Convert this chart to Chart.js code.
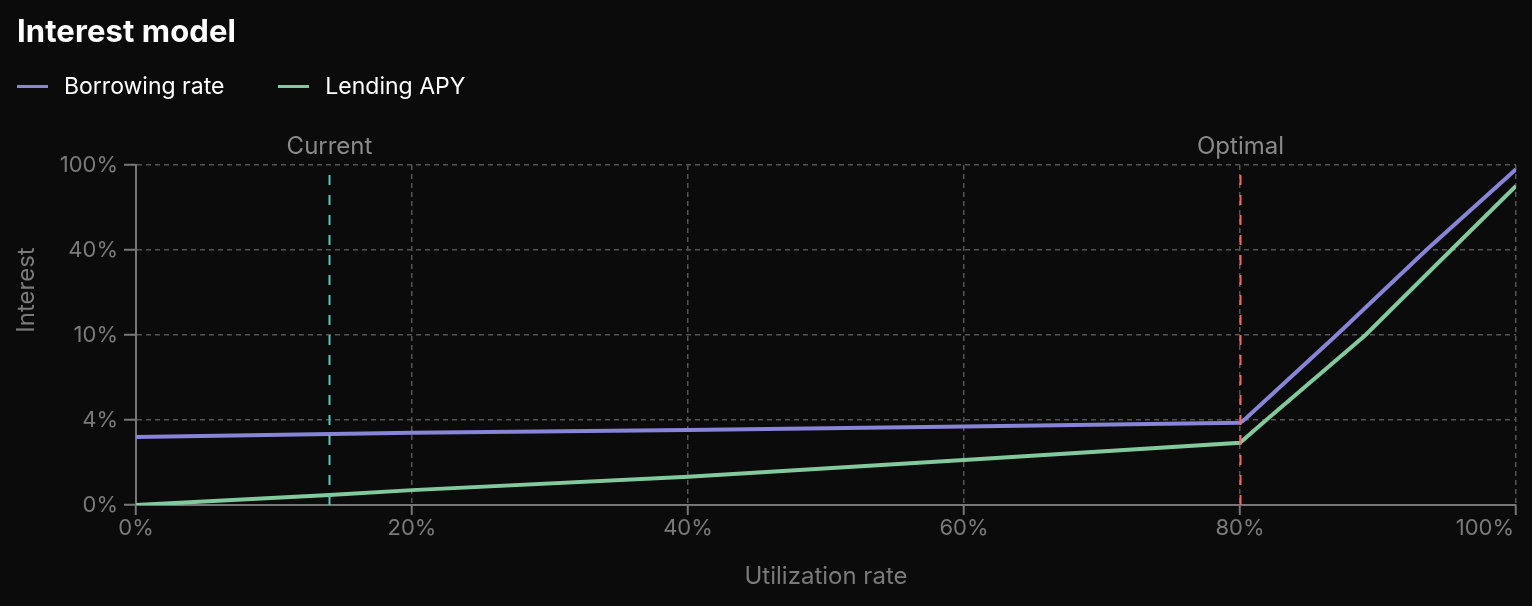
<!DOCTYPE html>
<html>
<head>
<meta charset="utf-8">
<script src="https://cdn.jsdelivr.net/npm/chart.js@4"></script>
<style>
  html, body { margin: 0; padding: 0; background: #0b0b0b; }
  #wrap { position: relative; width: 1532px; height: 606px; overflow: hidden; font-family: Inter, "Noto Sans", sans-serif; }
  #c { position: absolute; left: 0; top: 0; }
  #title { position: absolute; left: 17px; top: 12px; color: #ffffff; font-size: 31px; font-weight: 700; line-height: 38px; letter-spacing: 0.1px; }
  #legend { position: absolute; left: 17px; top: 71px; display: flex; align-items: center; color: #ffffff; font-size: 23px; line-height: 30px; }
  .item { display: flex; align-items: center; margin-right: 54px; }
  .sw { width: 31px; height: 3px; margin-right: 16px; }
</style>
</head>
<body>
<div id="wrap">
  <canvas id="c" width="1532" height="606"></canvas>
  <div id="title">Interest model</div>
  <div id="legend"></div>
</div>
<script>
// ---- data (percent values) ----
const seriesNames = ['Borrowing rate', 'Lending APY'];
const seriesColors = ['#8884d8', '#82ca9d'];
const borrowUtil = [0, 20, 40, 60, 80, 80.3, 87.0, 93.5, 100];
const borrowRate = [3.2, 3.4, 3.53, 3.69, 3.87, 4, 10, 40, 97];
const lendUtil = [0, 14, 20, 40, 60, 80, 81.9, 89.1, 95.3, 100];
const lendRate = [0, 0.47, 0.7, 1.33, 2.12, 2.93, 4, 10, 40, 85.2];
const yTickValues = [0, 4, 10, 40, 100];
const yTickLabels = ['0%', '4%', '10%', '40%', '100%'];
const xTickValues = [0, 20, 40, 60, 80, 100];
const currentUtil = 14;
const optimalUtil = 80;
const markerLabels = ['Current', 'Optimal'];
const markerColors = ['#5fc3bc', '#f0686a'];

// piecewise axis: each tick interval gets equal height
function toAxis(v) {
  for (let i = 0; i < yTickValues.length - 1; i++) {
    const a = yTickValues[i], b = yTickValues[i + 1];
    if (v <= b || i === yTickValues.length - 2) return i + (v - a) / (b - a);
  }
}

// legend
const legend = document.getElementById('legend');
seriesNames.forEach((n, i) => {
  const it = document.createElement('div'); it.className = 'item';
  const sw = document.createElement('div'); sw.className = 'sw'; sw.style.background = seriesColors[i];
  const tx = document.createElement('span'); tx.textContent = n;
  it.appendChild(sw); it.appendChild(tx); legend.appendChild(it);
});

const FONT = 'Inter, "Noto Sans", sans-serif';
const GREY = '#7a7a7a';

const markersPlugin = {
  id: 'markers',
  afterDatasetsDraw(chart) {
    const {ctx, chartArea} = chart;
    const x = chart.scales.x;
    [currentUtil, optimalUtil].forEach((u, i) => {
      const px = Math.round(x.getPixelForValue(u)) + 0.5;
      ctx.save();
      ctx.strokeStyle = markerColors[i];
      ctx.lineWidth = 2;
      ctx.setLineDash([10, 10]);
      ctx.lineDashOffset = 10;
      ctx.beginPath();
      ctx.moveTo(px, chartArea.top);
      ctx.lineTo(px, chartArea.bottom);
      ctx.stroke();
      ctx.setLineDash([]);
      ctx.fillStyle = '#8a8a8a';
      ctx.font = '24px ' + FONT;
      ctx.textAlign = 'center';
      ctx.textBaseline = 'middle';
      ctx.fillText(markerLabels[i], px, chartArea.top - 18);
      ctx.restore();
    });
    // y axis title
    ctx.save();
    ctx.translate(27, chartArea.top + 125);
    ctx.rotate(-Math.PI / 2);
    ctx.fillStyle = GREY;
    ctx.font = '24px ' + FONT;
    ctx.textAlign = 'center';
    ctx.textBaseline = 'middle';
    ctx.fillText('Interest', 0, 0);
    ctx.restore();
  }
};

const lastLabelPlugin = {
  id: 'lastLabel',
  beforeDraw(chart) {
    try {
      const s = chart.scales.x;
      const items = s.getLabelItems();
      const it = items[items.length - 1];
      it.options.textAlign = 'right';
      it.options.translation = [s.right - 2, it.options.translation[1]];
    } catch (e) {}
  }
};

new Chart(document.getElementById('c'), {
  type: 'line',
  data: {
    datasets: [
      { label: seriesNames[0], data: borrowUtil.map((u, i) => ({x: u, y: toAxis(borrowRate[i])})),
        borderColor: seriesColors[0], backgroundColor: seriesColors[0], borderWidth: 4, pointRadius: 0, tension: 0 },
      { label: seriesNames[1], data: lendUtil.map((u, i) => ({x: u, y: toAxis(lendRate[i])})),
        borderColor: seriesColors[1], backgroundColor: seriesColors[1], borderWidth: 4, pointRadius: 0, tension: 0 }
    ]
  },
  options: {
    responsive: false,
    animation: false,
    layout: { autoPadding: false, padding: { top: 165, right: 16, left: 0, bottom: 0 } },
    plugins: { legend: { display: false }, title: { display: false }, tooltip: { enabled: false } },
    scales: {
      x: {
        type: 'linear', min: 0, max: 100,
        afterBuildTicks: (s) => { s.ticks = xTickValues.map(v => ({value: v})); },
        afterFit: (s) => { s.height = 101; s.paddingLeft = 0; s.paddingRight = 0; },
        ticks: { callback: (v) => v + '%', color: GREY, font: { family: FONT, size: 22 }, padding: 0, maxRotation: 0, autoSkip: false },
        grid: { color: '#545454', lineWidth: 1.5, tickLength: 10, tickColor: '#777', tickWidth: 2, tickBorderDash: [] },
        border: { display: true, color: '#777', width: 2, dash: [5, 4] },
        title: { display: true, text: 'Utilization rate', color: GREY, font: { family: FONT, size: 24 }, padding: { top: 0, bottom: 15 } }
      },
      y: {
        type: 'linear', min: 0, max: yTickValues.length - 1,
        afterBuildTicks: (s) => { s.ticks = yTickValues.map((v, i) => ({value: i})); },
        afterFit: (s) => { s.width = 136; s.paddingTop = 0; s.paddingBottom = 0; },
        ticks: { callback: (v) => yTickLabels[v], color: GREY, font: { family: FONT, size: 22 }, padding: 6 },
        grid: { color: '#545454', lineWidth: 1.5, tickLength: 12, tickColor: '#777', tickWidth: 2, tickBorderDash: [] },
        border: { display: true, color: '#777', width: 2, dash: [5, 4] }
      }
    }
  },
  plugins: [lastLabelPlugin, markersPlugin]
});
</script>
</body>
</html>
